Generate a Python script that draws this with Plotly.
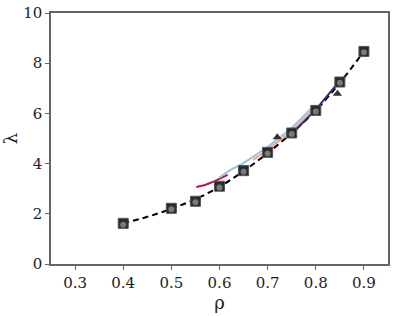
import plotly.graph_objects as go

# data
rho_sq = [0.4, 0.5, 0.55, 0.6, 0.65, 0.7, 0.75, 0.8, 0.85, 0.9]
lam_sq = [1.62, 2.22, 2.50, 3.10, 3.72, 4.45, 5.22, 6.12, 7.25, 8.47]
lam_ci = [1.56, 2.18, 2.46, 3.05, 3.68, 4.40, 5.18, 6.08, 7.22, 8.44]
rho_fit = [0.4, 0.45, 0.5, 0.55, 0.6, 0.65, 0.7, 0.75, 0.8, 0.85, 0.9]
lam_fit = [1.62, 1.88, 2.20, 2.58, 3.08, 3.70, 4.42, 5.22, 6.12, 7.22, 8.47]
rho_tri = [0.65, 0.72, 0.845]
lam_tri = [3.78, 5.05, 6.78]

rho_red = [0.552, 0.57, 0.59, 0.60, 0.617]
lam_red = [3.07, 3.15, 3.30, 3.40, 3.55]
rho_blue = [0.60, 0.623, 0.65, 0.70, 0.75, 0.796]
lam_blue = [3.45, 3.75, 4.02, 4.66, 5.42, 6.30]
rho_orange = [0.67, 0.70, 0.75, 0.80]
lam_orange = [4.15, 4.55, 5.30, 6.25]
rho_navy = [0.755, 0.80, 0.85, 0.862]
lam_navy = [5.28, 6.15, 7.30, 7.48]

fig = go.Figure()
fig.add_trace(go.Scatter(x=rho_fit, y=lam_fit, mode="lines", line=dict(color="black", width=2, dash="6px,4px", shape="spline")))
fig.add_trace(go.Scatter(x=rho_red, y=lam_red, mode="lines", line=dict(color="#b2183b", width=2)))
fig.add_trace(go.Scatter(x=rho_blue, y=lam_blue, mode="lines", line=dict(color="#92c5de", width=2)))
fig.add_trace(go.Scatter(x=rho_orange, y=lam_orange, mode="lines", line=dict(color="#f4a582", width=2)))
fig.add_trace(go.Scatter(x=rho_navy, y=lam_navy, mode="lines", line=dict(color="#2d2b7d", width=2)))
fig.add_trace(go.Scatter(x=rho_tri, y=lam_tri, mode="markers", marker=dict(symbol="triangle-up", size=8, color="#333333")))
fig.add_trace(go.Scatter(x=rho_sq, y=lam_sq, mode="markers", marker=dict(symbol="square", size=10, color="#2a2a2a", line=dict(color="#555555", width=1))))
fig.add_trace(go.Scatter(x=rho_sq, y=lam_ci, mode="markers", marker=dict(symbol="circle", size=6, color="#7a7a7a")))

serif = "DejaVu Serif, Liberation Serif, serif"
font = dict(family=serif, size=15, color="#222222")
fig.update_layout(
    width=399, height=316, margin=dict(l=51, r=11, t=13, b=52, autoexpand=False),
    plot_bgcolor="white", paper_bgcolor="white", showlegend=False, font=font,
)
fig.update_xaxes(range=[0.25, 0.95], tickvals=[0.3, 0.4, 0.5, 0.6, 0.7, 0.8, 0.9], ticktext=["0.3", "0.4", "0.5", "0.6", "0.7", "0.8", "0.9"],
                 showgrid=False, zeroline=False, showline=True, linecolor="#666666", linewidth=1.5, mirror=True,
                 ticks="outside", ticklen=4, tickcolor="#666666", automargin=False, ticklabeloverflow="allow",
                 title=dict(text="ρ", font=dict(family=serif, size=18, color="#222222"), standoff=6))
fig.update_yaxes(range=[0, 10], tickvals=[0, 2, 4, 6, 8, 10],
                 showgrid=False, zeroline=False, showline=True, linecolor="#666666", linewidth=1.5, mirror=True,
                 ticks="outside", ticklen=4, tickcolor="#666666", automargin=False, ticklabeloverflow="allow",
                 title=dict(text="λ", font=dict(family=serif, size=18, color="#222222"), standoff=8))
fig.write_html("out.html", config={"displayModeBar": False}, post_script="document.body.style.margin='0px';")
